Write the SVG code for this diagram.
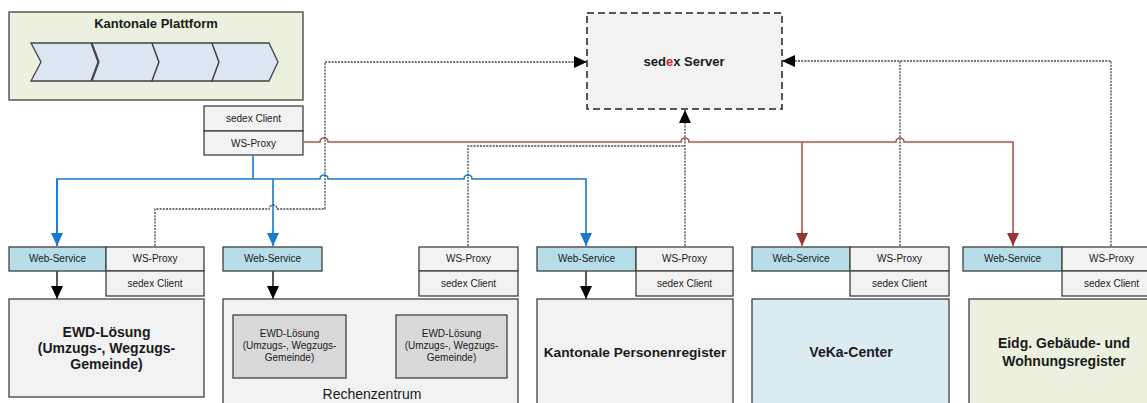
<svg xmlns="http://www.w3.org/2000/svg" width="1147" height="403" viewBox="0 0 1147 403">
<style>
text{font-family:"Liberation Sans",Arial,sans-serif;fill:#1a1a1a;text-anchor:middle}
.box{fill:#f2f2f2;stroke:#404040;stroke-width:1.3}
.ws{fill:#b7dde8;stroke:#404040;stroke-width:1.3}
.inner{fill:#d9d9d9;stroke:#404040;stroke-width:1.3}
.chev{fill:#dce6f2;stroke:#404040;stroke-width:1.3}
.sm{font-size:10px}
.md{font-size:10px}
.big{font-size:14px;font-weight:bold}
.blue{fill:none;stroke:#1a7acb;stroke-width:1.6}
.red{fill:none;stroke:#b0554f;stroke-width:1.6}
.dot{fill:none;stroke:#444;stroke-width:1.3;stroke-dasharray:2 1.2}
</style>
<defs>
<marker id="ar" markerUnits="userSpaceOnUse" markerWidth="14" markerHeight="12" refX="13" refY="6" orient="auto" viewBox="0 0 14 12"><path d="M0 0 L13 6 L0 12 Z" fill="#953735"/></marker>
<marker id="ak" markerUnits="userSpaceOnUse" markerWidth="14" markerHeight="12" refX="13" refY="6" orient="auto" viewBox="0 0 14 12"><path d="M0 0 L13 6 L0 12 Z" fill="#000"/></marker>
<marker id="abl" markerUnits="userSpaceOnUse" markerWidth="14" markerHeight="12" refX="13" refY="6" orient="auto" viewBox="0 0 14 12"><path d="M0 0 L13 6 L0 12 Z" fill="#1a7acb"/></marker>
</defs>

<g id="kantonale-plattform">
<rect x="9" y="12" width="294" height="88" fill="#ebf1de" stroke="#404040" stroke-width="1.3"/>
<text x="156" y="28" style="font-size:13px;font-weight:bold">Kantonale Plattform</text>
<path class="chev" d="M31 43 H91 L98 62 L91 81 H31 L41 62 Z"/>
<path class="chev" d="M92 43 H152 L159 62 L152 81 H92 L99 62 Z"/>
<path class="chev" d="M152 43 H212 L219 62 L212 81 H152 L159 62 Z"/>
<path class="chev" d="M212 43 H269 L278 62 L269 81 H212 L219 62 Z"/>
</g>

<g id="kp-sedex-client">
<rect class="box" x="204" y="106" width="99" height="25"/>
<text class="sm" x="253.5" y="122">sedex Client</text>
<rect class="box" x="204" y="131" width="99" height="24"/>
<text class="sm" x="253.5" y="147">WS-Proxy</text>
</g>

<g id="sedex-server">
<rect x="587" y="13" width="195" height="96" fill="#f2f2f2" stroke="#222" stroke-width="1.5" stroke-dasharray="7 4"/>
<text x="684" y="66" style="font-size:13px;font-weight:bold">sed<tspan style="fill:#e02020">e</tspan>x Server</text>
</g>

<g id="connectors">
<path class="red" d="M303 142 H320 a4 4 0 0 1 8 0 H681 a4 4 0 0 1 8 0 H896 a4 4 0 0 1 8 0 H1013 V246" marker-end="url(#ar)"/>
<path class="red" d="M802 142 V246" marker-end="url(#ar)"/>
<path class="blue" d="M253 155 V179"/>
<path class="blue" d="M57 246 V179 H320 a4 4 0 0 1 8 0 H464 a4 4 0 0 1 8 0 H586 V246" marker-end="url(#abl)"/>
<path class="blue" d="M57 179 V246" marker-end="url(#abl)"/>
<path class="blue" d="M273 179 V246" marker-end="url(#abl)"/>
<path class="dot" d="M155 246 V209 H269 a4 4 0 0 1 8 0 H325 V62 H587" marker-end="url(#ak)"/>
<path class="dot" d="M468 246 V146 H685"/>
<path class="dot" d="M685 246 V110" marker-end="url(#ak)"/>
<path class="dot" d="M1111 246 V61 H782" marker-end="url(#ak)"/>
<path class="dot" d="M900 246 V61"/>
<path d="M57 271 V299" stroke="#000" stroke-width="1.3" marker-end="url(#ak)"/>
<path d="M273 271 V299" stroke="#000" stroke-width="1.3" marker-end="url(#ak)"/>
<path d="M586 271 V299" stroke="#000" stroke-width="1.3" marker-end="url(#ak)"/>
</g>

<g id="ewd-gemeinde">
<rect class="ws" x="9" y="247" width="97" height="24"/>
<text class="sm" x="57.5" y="262">Web-Service</text>
<rect class="box" x="106" y="247" width="98" height="24"/>
<text class="sm" x="155" y="262">WS-Proxy</text>
<rect class="box" x="106" y="271" width="98" height="25"/>
<text class="sm" x="155" y="287">sedex Client</text>
<rect class="box" x="9" y="299" width="195" height="98"/>
<text class="big" x="106.5" y="337">EWD-Lösung</text>
<text class="big" x="106.5" y="353">(Umzugs-, Wegzugs-</text>
<text class="big" x="106.5" y="369">Gemeinde)</text>
</g>

<g id="rechenzentrum">
<rect class="ws" x="223" y="247" width="99" height="24"/>
<text class="sm" x="272.5" y="262">Web-Service</text>
<rect class="box" x="419" y="247" width="99" height="24"/>
<text class="sm" x="468.5" y="262">WS-Proxy</text>
<rect class="box" x="419" y="271" width="99" height="25"/>
<text class="sm" x="468.5" y="287">sedex Client</text>
<rect class="box" x="223" y="299" width="295" height="110"/>
<rect class="inner" x="233" y="315" width="113" height="63"/>
<text class="md" x="289.5" y="337">EWD-Lösung</text>
<text class="md" x="289.5" y="349">(Umzugs-, Wegzugs-</text>
<text class="md" x="289.5" y="361">Gemeinde)</text>
<rect class="inner" x="396" y="315" width="111" height="63"/>
<text class="md" x="451.5" y="337">EWD-Lösung</text>
<text class="md" x="451.5" y="349">(Umzugs-, Wegzugs-</text>
<text class="md" x="451.5" y="361">Gemeinde)</text>
<text x="372" y="399" style="font-size:14px">Rechenzentrum</text>
</g>

<g id="kantonale-personenregister">
<rect class="ws" x="537" y="247" width="99" height="24"/>
<text class="sm" x="586.5" y="262">Web-Service</text>
<rect class="box" x="636" y="247" width="97" height="24"/>
<text class="sm" x="684.5" y="262">WS-Proxy</text>
<rect class="box" x="636" y="271" width="97" height="25"/>
<text class="sm" x="684.5" y="287">sedex Client</text>
<rect class="box" x="537" y="299" width="196" height="110"/>
<text x="635" y="357" style="font-size:13.7px;font-weight:bold">Kantonale Personenregister</text>
</g>

<g id="veka-center">
<rect class="ws" x="752" y="247" width="98" height="24"/>
<text class="sm" x="801" y="262">Web-Service</text>
<rect class="box" x="850" y="247" width="99" height="24"/>
<text class="sm" x="899.5" y="262">WS-Proxy</text>
<rect class="box" x="850" y="271" width="99" height="25"/>
<text class="sm" x="899.5" y="287">sedex Client</text>
<rect x="752" y="299" width="197" height="110" fill="#daebf2" stroke="#404040" stroke-width="1.3"/>
<text class="big" x="851" y="357">VeKa-Center</text>
</g>

<g id="gwr">
<rect class="ws" x="963" y="247" width="99" height="24"/>
<text class="sm" x="1012.5" y="262">Web-Service</text>
<rect class="box" x="1062" y="247" width="99" height="24"/>
<text class="sm" x="1111.5" y="262">WS-Proxy</text>
<rect class="box" x="1062" y="271" width="99" height="25"/>
<text class="sm" x="1111.5" y="287">sedex Client</text>
<rect x="969" y="299" width="192" height="110" fill="#ebf1de" stroke="#404040" stroke-width="1.3"/>
<text class="big" x="1064" y="348">Eidg. Gebäude- und</text>
<text class="big" x="1064" y="366">Wohnungsregister</text>
</g>
</svg>
